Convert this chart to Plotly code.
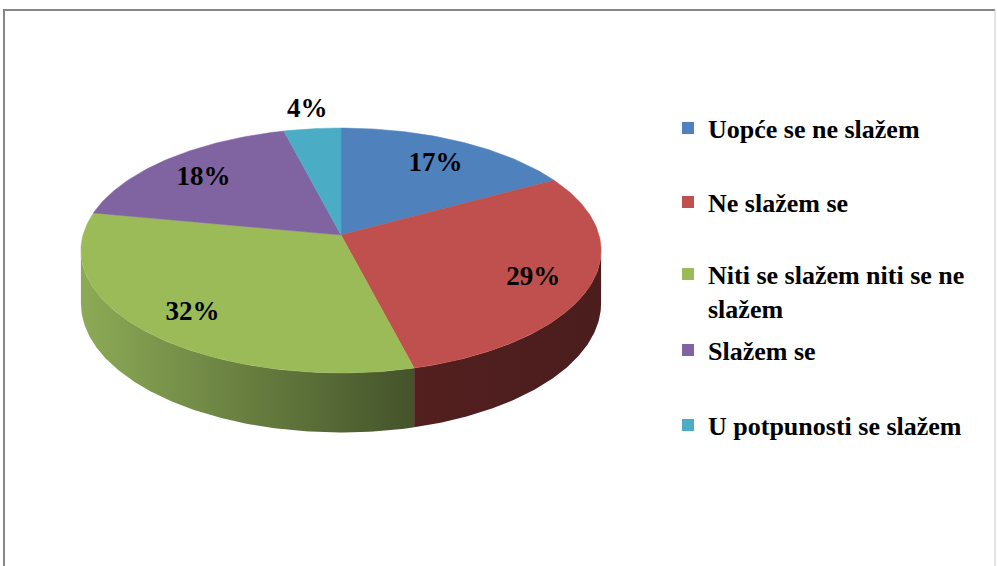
import numpy as np
import plotly.graph_objects as go

# ---- data ----
categories = [
    "Uopće se ne slažem",
    "Ne slažem se",
    "Niti se slažem niti se ne<br>slažem",
    "Slažem se",
    "U potpunosti se slažem",
]
values = [17, 29, 32, 18, 4]
top_colors = ["#4F81BD", "#C0504D", "#9BBB59", "#8064A2", "#4BACC6"]
side_light = ["#3A5F8C", "#531F1F", "#8CAA56", "#5E4A78", "#37809A"]
side_dark = ["#2C486A", "#4B1D1D", "#44532A", "#47385B", "#2A6173"]

# ---- geometry (pixel space, simple perspective of a tilted disc) ----
W, H = 997, 566
cx, cy = 341, 235          # projected centre of the disc (apex of slices)
R, c, k = 258, 120.5, 0.1265
d0 = 52                    # disc thickness before perspective
FONT = "Liberation Serif, Times New Roman, serif"


def proj(a, f=1.0):
    X, Z = f * np.sin(a), f * np.cos(a)
    den = 1 + k * Z
    return cx + R * X / den, cy - c * Z / den, den


fig = go.Figure()
total = float(sum(values))
bounds = []
acc = 0.0
for v in values:
    a0 = acc / total * 2 * np.pi
    acc += v
    a1 = acc / total * 2 * np.pi
    bounds.append((a0, a1))

# side walls (front, between the silhouette tangents)
sil = np.arccos(-k)
for i, (a0, a1) in enumerate(bounds):
    s0, s1 = max(a0, sil), min(a1, 2 * np.pi - sil)
    if s1 <= s0:
        continue
    t = np.linspace(s0, s1, 120)
    xt, yt, den = proj(t)
    yb = yt + d0 / den
    xs = np.concatenate([xt, xt[::-1], xt[:1]])
    ys = np.concatenate([yt, yb[::-1], yt[:1]])
    fig.add_trace(go.Scatter(
        x=xs, y=ys, mode="lines", fill="toself",
        line=dict(width=0, color=side_dark[i]),
        fillgradient=dict(type="horizontal",
                          colorscale=[[0, side_light[i]], [1, side_dark[i]]]),
        hoverinfo="skip", showlegend=False))

# top faces
for i, (a0, a1) in enumerate(bounds):
    t = np.linspace(a0, a1, max(int((a1 - a0) * 60), 8))
    xt, yt, _ = proj(t)
    xs = np.concatenate([[cx], xt, [cx]])
    ys = np.concatenate([[cy], yt, [cy]])
    fig.add_trace(go.Scatter(
        x=xs, y=ys, mode="lines", fill="toself", fillcolor=top_colors[i],
        line=dict(width=0.5, color=top_colors[i]),
        hoverinfo="text", text=f"{categories[i]}: {values[i]}%",
        showlegend=False))

# percentage labels
lx, ly, lt = [], [], []
for i, (a0, a1) in enumerate(bounds):
    m = (a0 + a1) / 2
    f = 0.78 if values[i] >= 5 else 1.2
    x, y, _ = proj(m, f)
    lx.append(x)
    ly.append(y + (4 if values[i] >= 5 else 0))
    lt.append(f"{values[i]}%")
fig.add_trace(go.Scatter(
    x=lx, y=ly, mode="text", text=lt,
    textfont=dict(family=FONT, size=27, color="black", weight="bold"),
    hoverinfo="skip", showlegend=False))

# legend entries, one legend each for exact placement
legend_y = [128, 202, 291, 350, 425]
for i, name in enumerate(categories):
    key = "legend" if i == 0 else f"legend{i + 1}"
    fig.add_trace(go.Scatter(
        x=[None], y=[None], mode="markers", name=name,
        marker=dict(symbol="square", size=12, color=top_colors[i]),
        legend=key))
    fig.update_layout({key: dict(
        x=668 / W, y=1 - legend_y[i] / H, xanchor="left", yanchor="middle",
        valign="top",
        bgcolor="rgba(0,0,0,0)",
        font=dict(family=FONT, size=26, color="black", weight="bold"))})

fig.update_layout(
    width=W, height=H,
    margin=dict(l=0, r=0, t=0, b=0),
    paper_bgcolor="white", plot_bgcolor="white",
    xaxis=dict(range=[0, W], visible=False, fixedrange=True),
    yaxis=dict(range=[H, 0], visible=False, fixedrange=True),
    shapes=[
        dict(type="line", xref="paper", yref="paper",
             x0=3 / W, x1=995 / W, y0=1 - 10 / H, y1=1 - 10 / H,
             line=dict(color="#878787", width=2)),
        dict(type="line", xref="paper", yref="paper",
             x0=4 / W, x1=4 / W, y0=1 - 10 / H, y1=-0.05,
             line=dict(color="#878787", width=2)),
        dict(type="line", xref="paper", yref="paper",
             x0=995 / W, x1=995 / W, y0=1 - 10 / H, y1=-0.05,
             line=dict(color="#C8C8C8", width=1)),
    ],
)

fig.write_html("out.html",
               config={"displayModeBar": False},
               post_script="document.body.style.margin='0px';"
                           "document.body.style.overflow='hidden';")
